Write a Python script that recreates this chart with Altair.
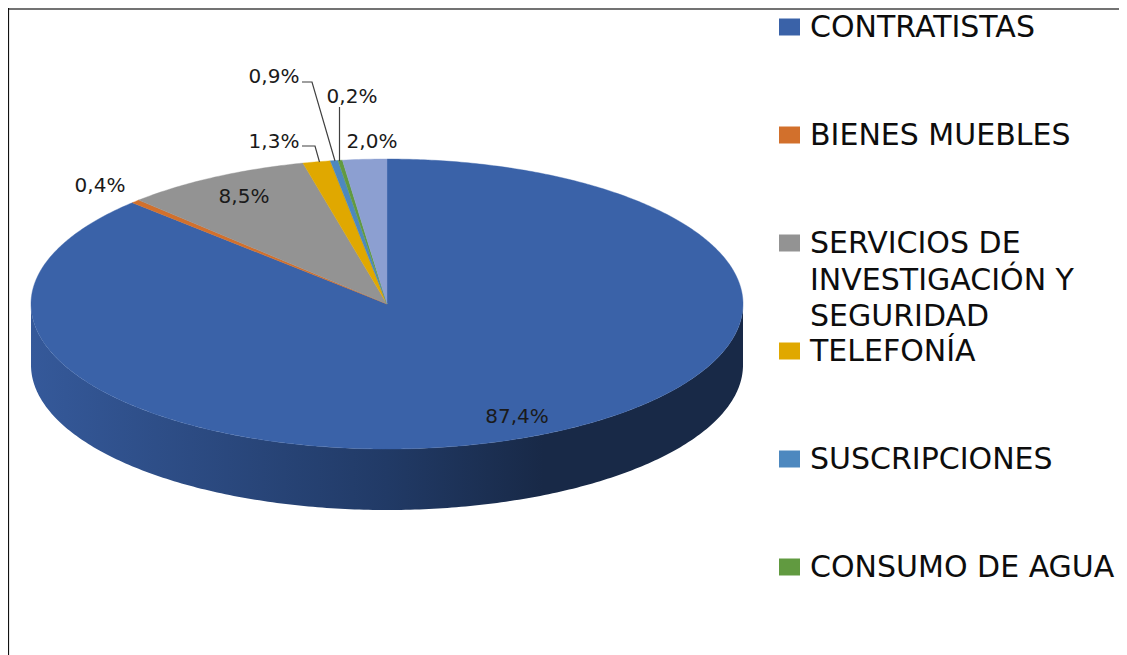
import altair as alt
import numpy as np
import pandas as pd

# Data
categories = ["CONTRATISTAS", "BIENES MUEBLES", "SERVICIOS DE INVESTIGACIÓN Y SEGURIDAD",
              "TELEFONÍA", "SUSCRIPCIONES", "CONSUMO DE AGUA", "OTROS"]
slice_shares = [87.4, 0.4, 8.5, 1.25, 0.35, 0.2, 2.0]
slice_colors = ["#3a62a8", "#d2702c", "#939393", "#e0a800", "#4d88bf", "#619a40", "#8c9fd1"]
value_labels = ["87,4%", "0,4%", "8,5%", "1,3%", "0,9%", "0,2%", "2,0%"]
legend_lines = [["CONTRATISTAS"], ["BIENES MUEBLES"], ["SERVICIOS DE", "INVESTIGACIÓN Y", "SEGURIDAD"],
                ["TELEFONÍA"], ["SUSCRIPCIONES"], ["CONSUMO DE AGUA"]]

# Layout
FONT = "DejaVu Sans"
CX, CY, RX, RY, DEPTH = 387.0, 304.0, 356.0, 145.0, 61.0
label_x = [517, 100, 244, 274, 274, 352, 372]
label_y = [417, 186, 197, 142, 77, 97, 142]
legend_y = [27, 135, 243, 351, 459, 567]
LINE_GAP = 36.5

xs = alt.Scale(domain=[8, 1119], range=[0, 1111], nice=False, zero=False)
ys = alt.Scale(domain=[8, 655], range=[0, 647], nice=False, zero=False)
X = lambda f="x": alt.X(f"{f}:Q", scale=xs, axis=None)
Y = lambda f="y": alt.Y(f"{f}:Q", scale=ys, axis=None)


def ell(t):
    return CX + RX * np.sin(t), CY - RY * np.cos(t)


layers = []

# Side wall, drawn from the lower half of the rim
t = np.radians(np.linspace(90, 270, 241))
ex, ey = ell(t)
wall = pd.DataFrame({"x": ex, "y": ey, "y2": ey + DEPTH})
wall_fill = alt.Gradient(
    gradient="linear", x1=0, x2=1, y1=0, y2=0,
    stops=[alt.GradientStop(offset=0, color="#35599a"),
           alt.GradientStop(offset=0.5, color="#213a66"),
           alt.GradientStop(offset=0.72, color="#182947"),
           alt.GradientStop(offset=1, color="#182947")])
layers.append(alt.Chart(wall).mark_area(fill=wall_fill, orient="vertical").encode(
    x=X(), y=Y(), y2="y2:Q"))

# Top face: one polygon per slice, clockwise from 12 o'clock
total = sum(slice_shares)
start = 0.0
for name, share, colour in zip(categories, slice_shares, slice_colors):
    a0 = start / total * 2 * np.pi
    a1 = (start + share) / total * 2 * np.pi
    start += share
    tt = np.linspace(a0, a1, max(3, int(share * 6)))
    px, py = ell(tt)
    px = np.concatenate([[CX], px, [CX]])
    py = np.concatenate([[CY], py, [CY]])
    poly = pd.DataFrame({"x": px, "y": py, "i": np.arange(len(px)), "cat": name})
    layers.append(alt.Chart(poly).mark_line(fill=colour, stroke=colour, strokeWidth=0.4,
                                            interpolate="linear").encode(
        x=X(), y=Y(), order="i:Q"))

# Leader lines
leaders = pd.DataFrame({
    "x": [302, 315, 319.5, 302, 312, 335, 339.5, 339.5],
    "y": [146, 146, 162, 82, 82, 161, 107, 161],
    "g": ["t", "t", "t", "s", "s", "s", "a", "a"],
    "i": [0, 1, 2, 0, 1, 2, 0, 1]})
layers.append(alt.Chart(leaders).mark_line(color="#404040", strokeWidth=1.2).encode(
    x=X(), y=Y(), detail="g:N", order="i:Q"))

# Value labels
labels = pd.DataFrame({"x": label_x, "y": label_y, "t": value_labels})
layers.append(alt.Chart(labels).mark_text(font=FONT, fontSize=20, color="#1a1a1a",
                                          align="center", baseline="middle").encode(
    x=X(), y=Y(), text="t:N"))

# Legend
sw = pd.DataFrame({"x": [789.5] * 6, "y": legend_y, "c": slice_colors[:6], "k": categories[:6]})
layers.append(alt.Chart(sw).mark_rect(width=21, height=17).encode(
    x=X(), y=Y(), color=alt.Color("c:N", scale=None)))
rows = []
for y0, lines in zip(legend_y, legend_lines):
    for j, line in enumerate(lines):
        rows.append({"x": 810, "y": y0 + 1 + j * LINE_GAP, "t": line})
layers.append(alt.Chart(pd.DataFrame(rows)).mark_text(font=FONT, fontSize=30, color="#0d0d0d",
                                                      align="left", baseline="middle").encode(
    x=X(), y=Y(), text="t:N"))

# Frame
layers.append(alt.Chart(pd.DataFrame({"x": [8], "x2": [1119], "y": [9]})).mark_rule(
    color="#444444", strokeWidth=1.5).encode(x=X(), x2="x2:Q", y=Y()))
layers.append(alt.Chart(pd.DataFrame({"x": [8.5], "y": [8], "y2": [655]})).mark_rule(
    color="#111111", strokeWidth=1.2).encode(x=X(), y=Y(), y2="y2:Q"))

chart = alt.layer(*layers).properties(
    width=1111, height=647,
    padding=0,
    autosize=alt.AutoSizeParams(type="none"),
).configure_view(stroke=None)

chart.save("out.html", embed_options={"renderer": "svg", "actions": False})
